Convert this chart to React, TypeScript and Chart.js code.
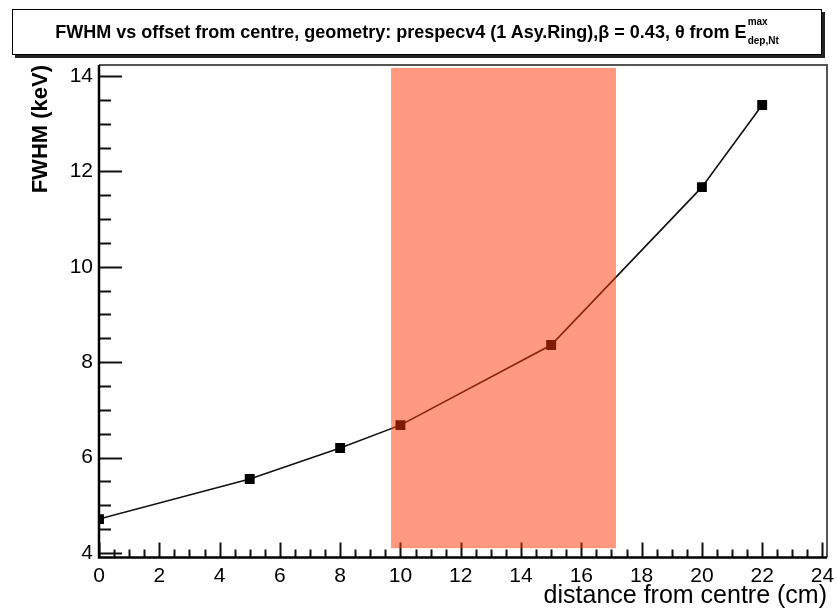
import React, { useEffect, useRef } from "react";
import { Chart, registerables } from "chart.js";

Chart.register(...registerables);

// ---- data ----
const distances = [0, 5, 8, 10, 15, 20, 22];
const fwhmValues = [4.71, 5.55, 6.2, 6.68, 8.36, 11.67, 13.39];
const xTickValues = [0, 2, 4, 6, 8, 10, 12, 14, 16, 18, 20, 22, 24];
const yTickValues = [4, 6, 8, 10, 12, 14];
const bandX = [9.69, 17.15];
const bandY = [4.1, 14.17];
const xRange = [0, 24.15];
const yRange = [3.905, 14.23];

const FONT = "'Liberation Sans', Arial, Helvetica, sans-serif";

const axesPlugin = {
  id: "rootAxes",
  beforeDatasetsDraw(chart: any) {
    const { ctx, chartArea: a, scales } = chart;
    const xs = scales.x;
    const ys = scales.y;
    ctx.save();
    // frame top/right
    ctx.strokeStyle = "#555";
    ctx.lineWidth = 2;
    ctx.beginPath();
    ctx.moveTo(a.left, a.top);
    ctx.lineTo(a.right, a.top);
    ctx.lineTo(a.right, a.bottom);
    ctx.stroke();
    // ticks
    ctx.strokeStyle = "#111";
    ctx.lineWidth = 2;
    ctx.beginPath();
    for (let v = yTickValues[0]; v <= yTickValues[yTickValues.length - 1] + 1e-6; v += 0.5) {
      const major = yTickValues.some((t) => Math.abs(t - v) < 1e-6);
      const py = Math.round(ys.getPixelForValue(v)) + 0.5;
      ctx.moveTo(a.left, py);
      ctx.lineTo(a.left + (major ? 23 : 12), py);
    }
    for (let v = xTickValues[0]; v <= xTickValues[xTickValues.length - 1] + 1e-6; v += 0.5) {
      const major = xTickValues.some((t) => Math.abs(t - v) < 1e-6);
      const px = Math.round(xs.getPixelForValue(v)) + 0.5;
      ctx.moveTo(px, a.bottom);
      ctx.lineTo(px, a.bottom - (major ? 15 : 8));
    }
    ctx.stroke();
    // axes lines left/bottom
    ctx.strokeStyle = "#000";
    ctx.lineWidth = 2.5;
    ctx.beginPath();
    ctx.moveTo(a.left, a.top);
    ctx.lineTo(a.left, a.bottom);
    ctx.lineTo(a.right, a.bottom);
    ctx.stroke();
    ctx.restore();
  },
  afterDatasetsDraw(chart: any) {
    const { ctx, scales } = chart;
    const xs = scales.x;
    const ys = scales.y;
    const x0 = xs.getPixelForValue(bandX[0]);
    const x1 = xs.getPixelForValue(bandX[1]);
    const y0 = ys.getPixelForValue(bandY[1]);
    const y1 = ys.getPixelForValue(bandY[0]);
    ctx.save();
    ctx.fillStyle = "rgba(255,51,0,0.5)";
    ctx.fillRect(x0, y0, x1 - x0, y1 - y0);
    ctx.restore();
  },
};

export default function App() {
  const canvasRef = useRef<HTMLCanvasElement | null>(null);

  useEffect(() => {
    const canvas = canvasRef.current;
    if (!canvas) return;
    const chart = new Chart(canvas, {
      type: "line",
      data: {
        datasets: [
          {
            data: distances.map((d, i) => ({ x: d, y: fwhmValues[i] })),
            borderColor: "#111",
            borderWidth: 1.6,
            backgroundColor: "#000",
            pointStyle: "rect",
            pointRadius: 7,
            pointBorderWidth: 0,
            pointBackgroundColor: "#000",
            tension: 0,
            fill: false,
          },
        ],
      },
      options: {
        responsive: false,
        animation: false,
        events: [],
        layout: { padding: { left: 0, top: 65, right: 10, bottom: 0 } },
        plugins: {
          legend: { display: false },
          tooltip: { enabled: false },
          title: { display: false },
        },
        scales: {
          x: {
            type: "linear",
            min: xRange[0],
            max: xRange[1],
            grid: { display: false, drawTicks: false },
            border: { display: false },
            afterBuildTicks: (s: any) => {
              s.ticks = xTickValues.map((v) => ({ value: v }));
            },
            afterFit: (s: any) => {
              s.height = 53.5;
              s.paddingLeft = 0;
              s.paddingRight = 0;
            },
            ticks: {
              color: "#000",
              font: { family: FONT, size: 21 },
              padding: 6,
              maxRotation: 0,
              autoSkip: false,
              callback: (v: any) => String(v),
            },
            title: {
              display: true,
              text: "distance from centre (cm)",
              align: "end",
              color: "#000",
              font: { family: FONT, size: 25 },
              padding: { top: 0, bottom: 0 },
            },
          },
          y: {
            type: "linear",
            min: yRange[0],
            max: yRange[1],
            grid: { display: false, drawTicks: false },
            border: { display: false },
            afterBuildTicks: (s: any) => {
              s.ticks = yTickValues.map((v) => ({ value: v }));
            },
            afterFit: (s: any) => {
              s.width = 99;
              s.paddingTop = 0;
              s.paddingBottom = 0;
            },
            ticks: {
              color: "#000",
              font: { family: FONT, size: 21 },
              padding: 6,
              autoSkip: false,
              callback: (v: any) => String(v),
            },
            title: {
              display: true,
              text: "FWHM (keV)",
              align: "end",
              color: "#000",
              font: { family: FONT, size: 22, weight: "bold" },
              padding: { top: 28, bottom: 0 },
            },
          },
        },
      },
      plugins: [axesPlugin],
    } as any);
    return () => chart.destroy();
  }, []);

  return (
    <div
      style={{
        position: "fixed",
        left: 0,
        top: 0,
        width: 837,
        height: 611,
        background: "#fff",
        overflow: "hidden",
      }}
    >
      <canvas ref={canvasRef} width={837} height={611} style={{ position: "absolute", left: 0, top: 0 }} />
      <div
        style={{
          position: "absolute",
          left: 12,
          top: 9,
          width: 808,
          height: 44,
          border: "1px solid #000",
          boxShadow: "3px 3px 0 #222",
          background: "#fff",
          display: "flex",
          alignItems: "center",
          justifyContent: "center",
          fontFamily: FONT,
          fontWeight: "bold",
          fontSize: 18,
          color: "#000",
          whiteSpace: "nowrap",
        }}
      >
        <span>FWHM vs offset from centre, geometry: prespecv4 (1 Asy.Ring),β = 0.43, θ from E</span>
        <span
          style={{
            display: "inline-flex",
            flexDirection: "column",
            fontSize: 10,
            lineHeight: "12px",
            marginLeft: 1,
          }}
        >
          <span style={{ position: "relative", top: -4 }}>max</span>
          <span style={{ position: "relative", top: 3 }}>dep,Nt</span>
        </span>
      </div>
    </div>
  );
}
